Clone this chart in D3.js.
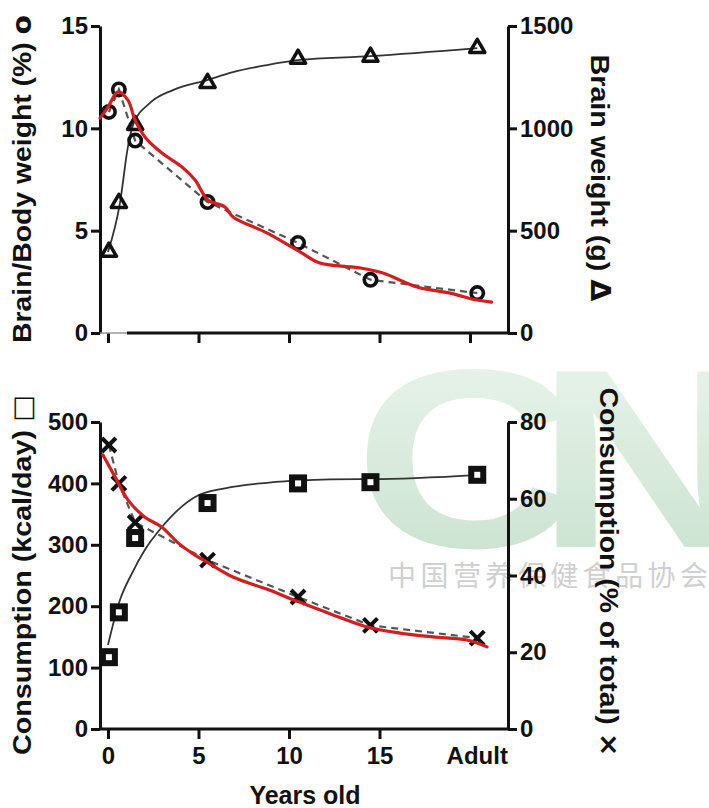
<!DOCTYPE html>
<html>
<head>
<meta charset="utf-8">
<script src="https://cdn.jsdelivr.net/npm/d3@7"></script>
<style>
  body { margin: 0; background: #fff; }
  svg { display: block; font-family: "Liberation Sans", Arial, sans-serif; }
</style>
</head>
<body>
<script>
// ages of the measured points (years, "Adult" drawn at ~20.4)
const ages = [0.05, 0.6, 1.5, 5.5, 10.5, 14.5, 20.4];

// top panel
const brainBodyPct = [10.8, 11.9, 9.4, 6.4, 4.4, 2.6, 1.95];
const brainWeight = [396, 635, 1016, 1221, 1339, 1349, 1392];
const brainFitAge = [0, 0.66, 1.1, 1.38, 2.32, 3.59, 5.47, 6.91, 8.78, 10.61, 13.92, 14.5, 20.4];
const brainFitVal = [396, 635, 909, 1016, 1124, 1187, 1236, 1275, 1309, 1334, 1350, 1353, 1392];
const redTopAge = [-0.44, 0, 0.55, 1.1, 1.49, 2.04, 2.98, 4.09, 4.81, 5.52, 6.46, 6.91, 8.78, 10.61, 11.71, 13.92, 15.19, 17.07, 18.9, 20.39, 21.2];
const redTopVal = [10.5, 11.04, 11.78, 11.38, 10.41, 9.58, 8.79, 8.11, 7.48, 6.5, 6.16, 5.67, 4.89, 3.96, 3.42, 3.18, 2.93, 2.25, 1.95, 1.61, 1.51];

// bottom panel
const kcalDay = [117, 190, 311, 368, 400, 402, 414];
const pctTotal = [74, 64, 53.8, 44, 34.4, 27, 23.7];
const kcalFitAge = [0, 0.66, 1.33, 2.04, 2.98, 3.87, 4.81, 6.46, 8.78, 10.61, 13.92, 14.5, 20.5];
const kcalFitVal = [137, 210, 254, 292, 329, 357, 378, 392, 401, 405, 407, 407, 414];
const redBotAge = [-0.28, 0.39, 1.1, 2.04, 2.98, 3.87, 4.81, 5.5, 6.9, 8.8, 10.5, 12.4, 14.31, 16.13, 17.96, 19.83, 20.94];
const redBotVal = [71.4, 65.7, 59.7, 55.2, 52.6, 48.5, 45.3, 43.4, 39.6, 36.4, 33.2, 29.8, 26.6, 25.0, 24.0, 23.2, 21.4];

// ticks
const xTicks = [0, 5, 10, 15, 20];
const xTickLabels = ["0", "5", "10", "15", "Adult"];
const topLeftTicks = [0, 5, 10, 15];
const topRightTicks = [0, 500, 1000, 1500];
const botLeftTicks = [0, 100, 200, 300, 400, 500];
const botRightTicks = [0, 20, 40, 60, 80];

const w = 709, h = 808;
const L = 100, R = 508;
const font = 24;

const svg = d3.select("body").append("svg")
    .attr("width", w)
    .attr("height", h);

// watermark (behind)
const grad = svg.append("defs").append("linearGradient")
    .attr("id", "wm").attr("x1", 0).attr("y1", 0).attr("x2", 0).attr("y2", 1);
grad.append("stop").attr("offset", "0%").attr("stop-color", "#edf6ef");
grad.append("stop").attr("offset", "100%").attr("stop-color", "#c6e0cc");

const wm = svg.append("g");
wm.append("text")
    .attr("transform", "translate(354,547) scale(1.23,1)")
    .attr("font-size", 255).attr("font-weight", "bold")
    .attr("fill", "url(#wm)")
    .text("C");
wm.append("text")
    .attr("transform", "translate(536,547) scale(1.2,1)")
    .attr("font-size", 255).attr("font-weight", "bold")
    .attr("fill", "url(#wm)")
    .text("N");
wm.append("text")
    .attr("x", 388).attr("y", 586)
    .attr("font-family", "Noto Sans CJK SC")
    .attr("font-size", 28)
    .attr("textLength", 320)
    .attr("fill", "#d0d0d0")
    .text("中国营养保健食品协会");

const x = d3.scaleLinear().domain([0, 20]).range([108, 470]);

function styleAxis(g) {
    g.select(".domain").attr("stroke", "#111").attr("stroke-width", 3);
    g.selectAll(".tick line").attr("stroke", "#111").attr("stroke-width", 3);
    g.selectAll(".tick text")
        .attr("font-size", font)
        .attr("font-weight", "bold")
        .attr("fill", "#111")
        .attr("font-family", "Liberation Sans, Arial, sans-serif");
}

function panel(yLeft, yRight, leftTicks, rightTicks) {
    const g = svg.append("g");
    g.append("g")
        .attr("transform", "translate(" + L + ",0)")
        .call(d3.axisLeft(yLeft).tickValues(leftTicks).tickFormat(d3.format("d"))
            .tickSize(9).tickPadding(3).tickSizeOuter(0))
        .call(styleAxis);
    g.append("g")
        .attr("transform", "translate(" + R + ",0)")
        .call(d3.axisRight(yRight).tickValues(rightTicks).tickFormat(d3.format("d"))
            .tickSize(9).tickPadding(3).tickSizeOuter(0))
        .call(styleAxis);
    return g;
}

function title(txt, sym, cx, cy, rot, len) {
    const t = svg.append("text")
        .attr("transform", "translate(" + cx + "," + cy + ") rotate(" + rot + ")")
        .attr("text-anchor", "middle")
        .attr("dy", "0.36em")
        .attr("font-size", 26)
        .attr("font-weight", "bold")
        .attr("fill", "#111")
        .attr("textLength", len)
        .attr("lengthAdjust", "spacingAndGlyphs");
    t.append("tspan").text(txt + " ");
    t.append("tspan").attr("font-family", "DejaVu Sans").text(sym);
}

// ---------- top panel ----------
const yT = d3.scaleLinear().domain([0, 15]).range([333, 26]);
const yTR = d3.scaleLinear().domain([0, 1500]).range([333, 26]);
const topG = panel(yT, yTR, topLeftTicks, topRightTicks);

topG.append("g")
    .attr("transform", "translate(0,333)")
    .call(d3.axisBottom(x).tickValues(xTicks).tickFormat("").tickSize(10).tickSizeOuter(0))
    .call(styleAxis)
    .call(g => g.select(".domain").remove());
topG.append("line").attr("x1", L).attr("x2", 127).attr("y1", 333).attr("y2", 333)
    .attr("stroke", "#999").attr("stroke-width", 1.5);
topG.append("line").attr("x1", 127).attr("x2", R).attr("y1", 333).attr("y2", 333)
    .attr("stroke", "#111").attr("stroke-width", 3);

// dashed line through circles
topG.append("path")
    .datum(ages.map((a, i) => [a, brainBodyPct[i]]))
    .attr("d", d3.line().x(d => x(d[0])).y(d => yT(d[1])))
    .attr("fill", "none").attr("stroke", "#555").attr("stroke-width", 2.2)
    .attr("stroke-dasharray", "7,5");

// fitted brain weight curve
topG.append("path")
    .datum(brainFitAge.map((a, i) => [a, brainFitVal[i]]))
    .attr("d", d3.line().curve(d3.curveMonotoneX).x(d => x(d[0])).y(d => yTR(d[1])))
    .attr("fill", "none").attr("stroke", "#333").attr("stroke-width", 1.8);

// triangles
topG.selectAll(".tri").data(ages.map((a, i) => [a, brainWeight[i]])).enter()
    .append("path")
    .attr("transform", d => "translate(" + x(d[0]) + "," + yTR(d[1]) + ")")
    .attr("d", d3.symbol(d3.symbolTriangle, 100))
    .attr("fill", "none").attr("stroke", "#111").attr("stroke-width", 3.5)
    .attr("stroke-linejoin", "round");

// circles
topG.selectAll(".circ").data(ages.map((a, i) => [a, brainBodyPct[i]])).enter()
    .append("circle")
    .attr("cx", d => x(d[0])).attr("cy", d => yT(d[1]))
    .attr("r", 6.2)
    .attr("fill", "none").attr("stroke", "#111").attr("stroke-width", 3.6);

// red line
topG.append("path")
    .datum(redTopAge.map((a, i) => [a, redTopVal[i]]))
    .attr("d", d3.line().curve(d3.curveCatmullRom).x(d => x(d[0])).y(d => yT(d[1])))
    .attr("fill", "none").attr("stroke", "#d11e1e").attr("stroke-width", 3.2)
    .attr("stroke-linecap", "round");

// ---------- bottom panel ----------
const yB = d3.scaleLinear().domain([0, 500]).range([729, 422]);
const yBR = d3.scaleLinear().domain([0, 80]).range([729, 422]);
const botG = panel(yB, yBR, botLeftTicks, botRightTicks);

botG.append("g")
    .attr("transform", "translate(0,729)")
    .call(d3.axisBottom(x).tickValues(xTicks.slice(0, 4)).tickFormat((d, i) => xTickLabels[i])
        .tickSize(10).tickPadding(8).tickSizeOuter(0))
    .call(styleAxis)
    .call(g => g.select(".domain").remove());
botG.append("line").attr("x1", L).attr("x2", R).attr("y1", 729).attr("y2", 729)
    .attr("stroke", "#111").attr("stroke-width", 3);
botG.append("text")
    .attr("x", x(20.4)).attr("y", 747).attr("dy", "0.71em")
    .attr("text-anchor", "middle")
    .attr("font-size", font).attr("font-weight", "bold").attr("fill", "#111")
    .text(xTickLabels[4]);

// dashed line through crosses
botG.append("path")
    .datum(ages.map((a, i) => [a, pctTotal[i]]))
    .attr("d", d3.line().x(d => x(d[0])).y(d => yBR(d[1])))
    .attr("fill", "none").attr("stroke", "#555").attr("stroke-width", 2.2)
    .attr("stroke-dasharray", "7,5");

// fitted kcal curve
botG.append("path")
    .datum(kcalFitAge.map((a, i) => [a, kcalFitVal[i]]))
    .attr("d", d3.line().curve(d3.curveMonotoneX).x(d => x(d[0])).y(d => yB(d[1])))
    .attr("fill", "none").attr("stroke", "#333").attr("stroke-width", 1.8);

// squares
botG.selectAll(".sq").data(ages.map((a, i) => [a, kcalDay[i]])).enter()
    .append("rect")
    .attr("x", d => x(d[0]) - 6).attr("y", d => yB(d[1]) - 6)
    .attr("width", 12).attr("height", 12)
    .attr("fill", "#fff").attr("stroke", "#111").attr("stroke-width", 6);

// crosses
botG.selectAll(".x").data(ages.map((a, i) => [a, pctTotal[i]])).enter()
    .append("path")
    .attr("transform", d => "translate(" + x(d[0]) + "," + yBR(d[1]) + ")")
    .attr("d", d3.symbol(d3.symbolX, 130))
    .attr("fill", "none").attr("stroke", "#111").attr("stroke-width", 4);

// red line
botG.append("path")
    .datum(redBotAge.map((a, i) => [a, redBotVal[i]]))
    .attr("d", d3.line().curve(d3.curveCatmullRom).x(d => x(d[0])).y(d => yBR(d[1])))
    .attr("fill", "none").attr("stroke", "#d11e1e").attr("stroke-width", 3.2)
    .attr("stroke-linecap", "round");

// ---------- titles ----------
title("Brain/Body weight (%)", "o", 22, 179, -90, 328);
title("Brain weight (g)", "\u0394", 600, 178, 90, 247);
title("Consumption (kcal/day)", "\u25A1", 22, 575, -90, 360);
title("Consumption (% of total)", "\u00D7", 609, 572, 90, 369);

svg.append("text")
    .attr("x", 305).attr("y", 795).attr("dy", "0.36em")
    .attr("text-anchor", "middle")
    .attr("font-size", 25).attr("font-weight", "bold").attr("fill", "#111")
    .text("Years old");
</script>
</body>
</html>
